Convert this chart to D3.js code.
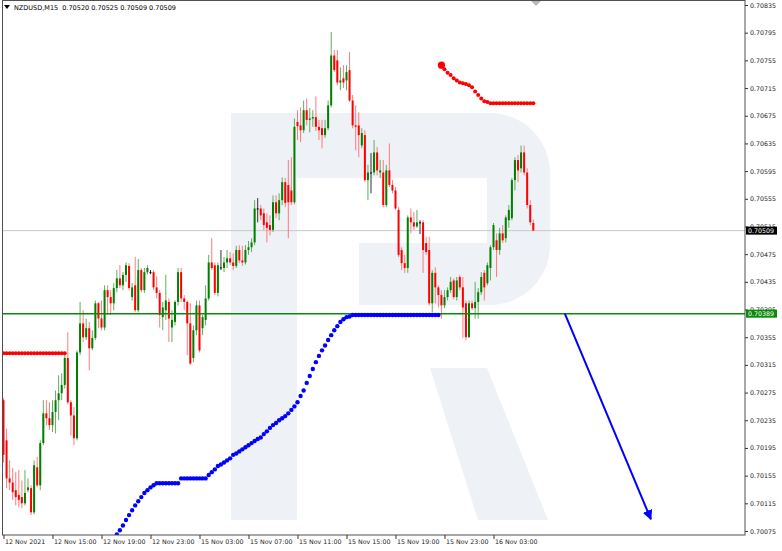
<!DOCTYPE html>
<html><head><meta charset="utf-8">
<script src="https://cdn.jsdelivr.net/npm/d3@7"></script>
<style>body{margin:0;background:#fff;}svg{display:block;}</style>
</head><body><svg id="c" width="782" height="551"></svg>
<script>
const symbolTitle = "NZDUSD,M15";
const headerValues = ["0.70520","0.70525","0.70509","0.70509"];

const openP = [0.70264,0.70206,0.70151,0.70145,0.70134,0.70127,0.70124,0.70115,0.70134,0.70137,
0.70102,0.70167,0.70141,0.70202,0.70245,0.70238,0.70228,0.70247,0.70264,0.70274,
0.70286,0.70325,0.70261,0.70242,0.70209,0.70333,0.70375,0.70355,0.70368,0.70339,
0.70354,0.70404,0.70382,0.70369,0.70423,0.70413,0.70404,0.70426,0.70440,0.70430,
0.70445,0.70458,0.70413,0.70430,0.70394,0.70452,0.70423,0.70449,0.70449,0.70449,
0.70427,0.70419,0.70384,0.70394,0.70406,0.70369,0.70377,0.70406,0.70449,0.70411,
0.70406,0.70375,0.70325,0.70365,0.70401,0.70368,0.70380,0.70411,0.70463,0.70459,
0.70419,0.70456,0.70455,0.70463,0.70469,0.70463,0.70458,0.70481,0.70466,0.70463,
0.70481,0.70485,0.70492,0.70541,0.70541,0.70534,0.70521,0.70517,0.70510,0.70550,
0.70534,0.70553,0.70579,0.70575,0.70567,0.70550,0.70666,0.70661,0.70654,0.70683,
0.70669,0.70671,0.70673,0.70659,0.70657,0.70647,0.70657,0.70690,0.70762,0.70755,
0.70723,0.70729,0.70726,0.70741,0.70697,0.70661,0.70661,0.70632,0.70647,0.70582,
0.70593,0.70593,0.70622,0.70593,0.70593,0.70546,0.70596,0.70575,0.70567,0.70539,
0.70481,0.70462,0.70455,0.70528,0.70521,0.70515,0.70521,0.70521,0.70491,0.70481,
0.70404,0.70448,0.70427,0.70416,0.70401,0.70413,0.70423,0.70437,0.70413,0.70442,
0.70427,0.70404,0.70355,0.70404,0.70397,0.70406,0.70420,0.70448,0.70433,0.70455,
0.70485,0.70495,0.70481,0.70505,0.70498,0.70524,0.70527,0.70582,0.70611,0.70599,
0.70622,0.70593,0.70546,0.70520];
const highP = [0.70267,0.70223,0.70177,0.70166,0.70160,0.70163,0.70148,0.70163,0.70151,0.70141,
0.70177,0.70182,0.70206,0.70264,0.70264,0.70261,0.70264,0.70278,0.70300,0.70303,
0.70332,0.70362,0.70264,0.70254,0.70336,0.70406,0.70394,0.70382,0.70377,0.70365,
0.70408,0.70406,0.70408,0.70430,0.70430,0.70423,0.70433,0.70452,0.70459,0.70449,
0.70463,0.70462,0.70433,0.70471,0.70468,0.70455,0.70455,0.70459,0.70452,0.70452,
0.70443,0.70423,0.70406,0.70445,0.70411,0.70394,0.70408,0.70455,0.70455,0.70416,
0.70408,0.70404,0.70372,0.70408,0.70408,0.70387,0.70430,0.70474,0.70498,0.70463,
0.70463,0.70481,0.70471,0.70481,0.70478,0.70476,0.70487,0.70488,0.70487,0.70488,
0.70494,0.70498,0.70553,0.70556,0.70546,0.70541,0.70534,0.70531,0.70560,0.70560,
0.70563,0.70586,0.70585,0.70611,0.70615,0.70671,0.70683,0.70687,0.70697,0.70700,
0.70686,0.70683,0.70703,0.70669,0.70669,0.70669,0.70697,0.70796,0.70770,0.70770,
0.70745,0.70748,0.70748,0.70767,0.70705,0.70690,0.70680,0.70657,0.70654,0.70604,
0.70621,0.70640,0.70630,0.70611,0.70611,0.70604,0.70635,0.70582,0.70572,0.70543,
0.70485,0.70474,0.70531,0.70541,0.70536,0.70539,0.70524,0.70524,0.70500,0.70500,
0.70452,0.70456,0.70430,0.70423,0.70423,0.70427,0.70442,0.70440,0.70442,0.70445,
0.70442,0.70408,0.70408,0.70408,0.70435,0.70426,0.70449,0.70452,0.70463,0.70488,
0.70520,0.70505,0.70513,0.70517,0.70531,0.70546,0.70585,0.70615,0.70618,0.70632,
0.70632,0.70599,0.70553,0.70525];
const lowP = [0.70174,0.70137,0.70134,0.70120,0.70112,0.70109,0.70108,0.70112,0.70131,0.70098,
0.70099,0.70138,0.70134,0.70199,0.70228,0.70221,0.70218,0.70216,0.70235,0.70264,
0.70281,0.70258,0.70213,0.70199,0.70206,0.70329,0.70348,0.70351,0.70307,0.70336,
0.70351,0.70368,0.70365,0.70365,0.70387,0.70387,0.70394,0.70420,0.70426,0.70423,
0.70435,0.70423,0.70408,0.70391,0.70391,0.70420,0.70419,0.70446,0.70446,0.70423,
0.70411,0.70369,0.70365,0.70380,0.70348,0.70348,0.70372,0.70401,0.70406,0.70394,
0.70329,0.70315,0.70319,0.70358,0.70333,0.70358,0.70372,0.70408,0.70452,0.70416,
0.70414,0.70452,0.70449,0.70455,0.70459,0.70452,0.70455,0.70462,0.70458,0.70460,
0.70474,0.70478,0.70488,0.70521,0.70524,0.70510,0.70492,0.70502,0.70507,0.70527,
0.70524,0.70546,0.70543,0.70498,0.70546,0.70547,0.70640,0.70637,0.70650,0.70661,
0.70651,0.70659,0.70653,0.70640,0.70628,0.70643,0.70654,0.70687,0.70738,0.70719,
0.70712,0.70715,0.70712,0.70695,0.70657,0.70625,0.70615,0.70628,0.70579,0.70553,
0.70563,0.70589,0.70589,0.70585,0.70543,0.70543,0.70572,0.70563,0.70539,0.70471,
0.70452,0.70448,0.70448,0.70505,0.70510,0.70513,0.70504,0.70448,0.70474,0.70401,
0.70391,0.70404,0.70398,0.70382,0.70397,0.70408,0.70419,0.70410,0.70408,0.70423,
0.70354,0.70351,0.70354,0.70394,0.70382,0.70382,0.70416,0.70408,0.70430,0.70437,
0.70481,0.70442,0.70474,0.70491,0.70492,0.70513,0.70524,0.70567,0.70579,0.70593,
0.70589,0.70541,0.70517,0.70509];
const closeP = [0.70185,0.70151,0.70145,0.70131,0.70124,0.70120,0.70115,0.70130,0.70138,0.70102,
0.70170,0.70141,0.70202,0.70245,0.70238,0.70228,0.70247,0.70264,0.70274,0.70286,
0.70325,0.70261,0.70242,0.70209,0.70333,0.70375,0.70355,0.70368,0.70339,0.70354,
0.70404,0.70382,0.70369,0.70423,0.70413,0.70404,0.70426,0.70440,0.70430,0.70445,
0.70459,0.70426,0.70427,0.70394,0.70452,0.70423,0.70449,0.70455,0.70449,0.70427,
0.70419,0.70387,0.70398,0.70408,0.70382,0.70380,0.70406,0.70449,0.70411,0.70406,
0.70375,0.70317,0.70365,0.70401,0.70336,0.70384,0.70411,0.70463,0.70455,0.70419,
0.70459,0.70456,0.70463,0.70469,0.70463,0.70458,0.70481,0.70466,0.70463,0.70481,
0.70485,0.70492,0.70541,0.70541,0.70531,0.70517,0.70513,0.70510,0.70550,0.70534,
0.70553,0.70579,0.70549,0.70550,0.70550,0.70659,0.70660,0.70654,0.70683,0.70669,
0.70671,0.70673,0.70659,0.70654,0.70647,0.70657,0.70690,0.70762,0.70741,0.70723,
0.70726,0.70723,0.70738,0.70697,0.70661,0.70659,0.70647,0.70650,0.70582,0.70593,
0.70593,0.70622,0.70596,0.70596,0.70546,0.70596,0.70575,0.70567,0.70541,0.70474,
0.70462,0.70455,0.70528,0.70521,0.70515,0.70521,0.70521,0.70481,0.70478,0.70404,
0.70448,0.70427,0.70416,0.70401,0.70413,0.70423,0.70435,0.70413,0.70437,0.70427,
0.70398,0.70355,0.70404,0.70397,0.70406,0.70420,0.70442,0.70427,0.70459,0.70485,
0.70517,0.70481,0.70505,0.70495,0.70528,0.70539,0.70582,0.70611,0.70596,0.70622,
0.70593,0.70546,0.70521,0.70509];

const timeLabels = ["12 Nov 2021","12 Nov 15:00","12 Nov 19:00","12 Nov 23:00","15 Nov 03:00","15 Nov 07:00","15 Nov 11:00","15 Nov 15:00","15 Nov 19:00","15 Nov 23:00","16 Nov 03:00"];
const timeLabelBars = [0,16,32,48,64,80,96,112,128,144,160];
const priceTicks = [0.70835,0.70795,0.70755,0.70715,0.70675,0.70635,0.70595,0.70555,0.70515,0.70475,0.70435,0.70395,0.70355,0.70315,0.70275,0.70235,0.70195,0.70155,0.70115,0.70075];
const currentPrice = 0.70509;
const levelPrice = 0.70389;

const redLeftStart = 0;
const redLeft = [0.70332,0.70332,0.70332,0.70332,0.70332,0.70332,0.70332,0.70332,0.70332,0.70332,0.70332,0.70332,0.70332,0.70332,0.70332,0.70332,0.70332,0.70332,0.70332,0.70332,0.70332];
const redUpperStart = 143;
const redUpper = [0.70748,0.70742,0.70737,0.70734,0.70729,0.70726,0.70723,0.70722,0.70721,0.70719,0.70716,0.70710,0.70705,0.70700,0.70696,0.70695,
0.70693,0.70693,0.70693,0.70693,0.70693,0.70693,0.70693,0.70693,0.70693,0.70693,0.70693,0.70693,0.70693,0.70693,0.70693];
const blueStart = 37;
const blueDots = [0.70070,0.70076,0.70083,0.70091,0.70098,0.70105,0.70112,0.70118,0.70124,0.70130,0.70134,0.70138,0.70141,
0.70144,0.70144,0.70144,0.70144,0.70144,0.70144,0.70144,0.70144,
0.70151,0.70151,0.70151,0.70151,0.70151,0.70151,0.70151,0.70151,0.70151,
0.70156,0.70160,0.70164,0.70169,0.70171,0.70174,0.70177,0.70180,0.70185,0.70187,0.70190,0.70193,0.70196,0.70199,0.70202,0.70205,0.70208,0.70210,
0.70215,0.70219,0.70224,0.70228,0.70231,0.70235,0.70238,0.70241,0.70245,0.70250,0.70255,0.70261,0.70270,0.70278,0.70289,0.70299,0.70309,0.70319,
0.70328,0.70336,0.70343,0.70351,0.70358,0.70365,0.70371,0.70377,0.70381,0.70384,0.70385,
0.70387,0.70387,0.70387,0.70387,0.70387,0.70387,0.70387,0.70387,0.70387,0.70387,0.70387,0.70387,0.70387,0.70387,0.70387,0.70387,0.70387,0.70387,0.70387,0.70387,0.70387,0.70387,0.70387,0.70387,0.70387,0.70387,0.70387,0.70387,0.70387];
const arrowBars = [183.3, 211.4];
const arrowPrices = [0.70389, 0.70092];

const svg = d3.select("#c");
const L = 2.5, T = 0.5, R = 745, B = 535;
const x = d3.scaleLinear().domain([0,160]).range([3.5,493.5]);
const y = d3.scaleLinear().domain([0.70075,0.70835]).range([531,5]);
const FONT = "DejaVu Sans, sans-serif";

svg.append("rect").attr("width",782).attr("height",551).attr("fill","#fff");
const defs = svg.append("defs");
defs.append("clipPath").attr("id","pc").append("rect")
  .attr("x",L).attr("y",T).attr("width",R-L).attr("height",B-T);
defs.append("marker").attr("id","ah").attr("viewBox","0 0 10 10").attr("refX",9).attr("refY",5)
  .attr("markerWidth",5).attr("markerHeight",5).attr("orient","auto")
  .append("path").attr("d","M0,0 L10,5 L0,10 z").attr("fill","#0000ff");

const plot = svg.append("g").attr("clip-path","url(#pc)");

// watermark logo
const wm = plot.append("g").attr("fill","#eef1f6");
wm.append("rect").attr("x",231).attr("y",113).attr("width",66).attr("height",407);
wm.append("path").attr("d","M297,113 H490 A60,60 0 0 1 550,173 V245 A60,60 0 0 1 490,305 H359 V243 H487 V178 H297 Z");
wm.append("path").attr("d","M430,368 L487,368 L548,520 L478,520 Z");

// current price line
plot.append("line").attr("x1",L).attr("x2",R).attr("y1",y(currentPrice)).attr("y2",y(currentPrice))
  .attr("stroke","#c8c8c8").attr("stroke-width",1);

// candles
const bars = d3.range(closeP.length);
const bull = "#008000", bear = "#ff0000";
const col = i => closeP[i] > openP[i] ? bull : (closeP[i] < openP[i] ? bear : "#000");
const wickCol = i => closeP[i] > openP[i] ? "#5fae5f" : (closeP[i] < openP[i] ? "#ff7a7a" : "#333");
plot.append("g").selectAll("line").data(bars).join("line")
  .attr("x1",i=>x(i)).attr("x2",i=>x(i)).attr("y1",i=>y(highP[i])).attr("y2",i=>y(lowP[i]))
  .attr("stroke",wickCol).attr("stroke-width",1);
plot.append("g").selectAll("rect").data(bars).join("rect")
  .attr("x",i=>x(i)-1).attr("width",2)
  .attr("y",i=>y(Math.max(openP[i],closeP[i])))
  .attr("height",i=>Math.max(1,Math.abs(y(openP[i])-y(closeP[i]))))
  .attr("fill",col);

plot.append("line").attr("x1",L).attr("x2",R).attr("y1",y(levelPrice)).attr("y2",y(levelPrice))
  .attr("stroke","#0a8a0a").attr("stroke-width",1.4);

// dotted indicator lines
function dots(start, vals, color, r){
  plot.append("g").selectAll("circle").data(vals).join("circle")
    .attr("cx",(d,i)=>x(start+i)).attr("cy",d=>y(d)).attr("r",r).attr("fill",color);
}
dots(redLeftStart, redLeft, "#ff0000", 2);
dots(blueStart, blueDots, "#0000ff", 2.2);
dots(redUpperStart, redUpper, "#ff0000", 2);
plot.append("circle").attr("cx",x(redUpperStart)).attr("cy",y(redUpper[0])).attr("r",3.6).attr("fill","#ff0000");

// arrow
plot.append("line").attr("x1",x(arrowBars[0])).attr("y1",y(arrowPrices[0]))
  .attr("x2",x(arrowBars[1])).attr("y2",y(arrowPrices[1]))
  .attr("stroke","#0000ff").attr("stroke-width",2).attr("marker-end","url(#ah)");

// shift marker
svg.append("path").attr("d","M531,1 L541,1 L536,6 Z").attr("fill","#b8b8b8");

// frame
svg.append("rect").attr("x",L).attr("y",T).attr("width",R-L).attr("height",B-T)
  .attr("fill","none").attr("stroke","#505050").attr("stroke-width",1);

// right axis
const ya = svg.append("g").attr("transform",`translate(${R},0)`)
  .call(d3.axisRight(y).tickValues(priceTicks).tickFormat(d3.format(".5f")).tickSize(3).tickSizeOuter(0).tickPadding(2));
ya.select(".domain").remove();
ya.selectAll("line").attr("stroke","#333");
ya.selectAll("text").attr("font-family",FONT).attr("font-size",6.3).attr("fill","#222");

// bottom axis
const xa = svg.append("g").attr("transform",`translate(0,${B})`)
  .call(d3.axisBottom(x).tickValues(timeLabelBars).tickFormat((d,i)=>timeLabels[i]).tickSize(4).tickSizeOuter(0).tickPadding(1));
xa.select(".domain").remove();
xa.selectAll("line").attr("stroke","#333");
xa.selectAll("text").attr("font-family",FONT).attr("font-size",6.3).attr("fill","#222")
  .attr("text-anchor","start").attr("x",1);

// price boxes
function priceBox(p, fill){
  const g = svg.append("g").attr("transform",`translate(746,${y(p)})`);
  g.append("rect").attr("x",0).attr("y",-4).attr("width",31).attr("height",8).attr("fill",fill);
  g.append("text").attr("x",2).attr("y",0).attr("dy","0.35em").attr("font-family",FONT)
    .attr("font-size",6.3).attr("fill","#fff").text(d3.format(".5f")(p));
}
priceBox(currentPrice, "#000");
priceBox(levelPrice, "#0a8a0a");

// header
svg.append("path").attr("d","M4,5 L10,5 L7,9 Z").attr("fill","#000");
svg.append("text").attr("x",14).attr("y",10).attr("font-family",FONT).attr("font-size",6.5)
  .attr("fill","#000").attr("xml:space","preserve").style("white-space","pre")
  .text(symbolTitle + "  " + headerValues.join(" "));
</script></body></html>
